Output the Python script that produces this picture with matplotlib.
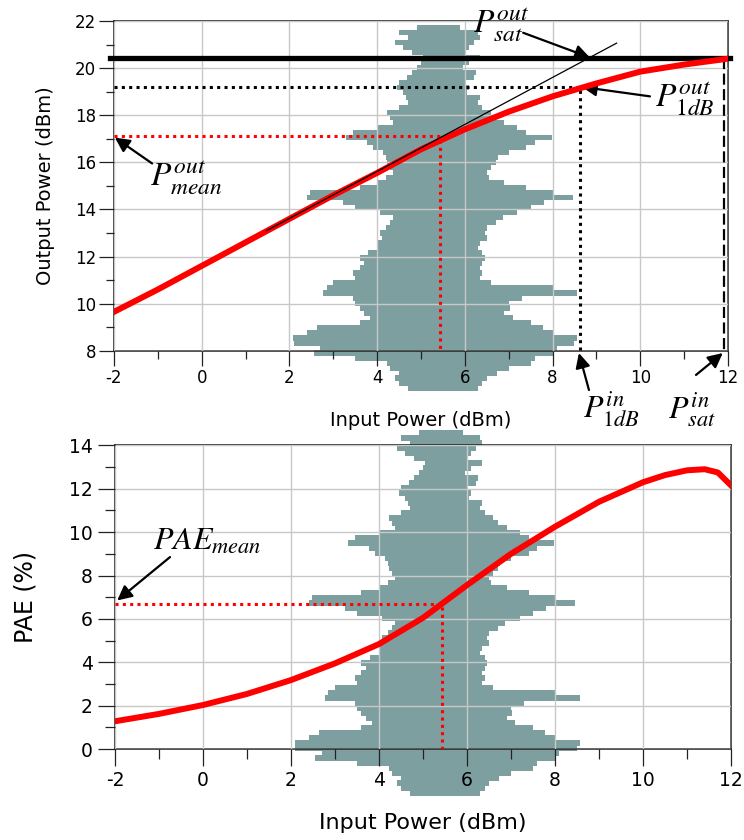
import numpy as np
import matplotlib
matplotlib.use('Agg')
import matplotlib.pyplot as plt
from matplotlib.ticker import MultipleLocator

plt.rcParams['font.family'] = ['DejaVu Sans']
plt.rcParams['mathtext.fontset'] = 'stix'
plt.rcParams['axes.unicode_minus'] = False

# AM/AM curve (output power vs input power, dBm)
pin = [-2, -1, 0, 1, 2, 3, 4, 5, 6, 7, 8, 9, 10, 11, 12]
pout = [9.65, 10.6, 11.6, 12.6, 13.6, 14.6, 15.55, 16.55, 17.4, 18.15, 18.8, 19.35, 19.85, 20.15, 20.4]

# PAE curve (%)
pin_pae = [-2, -1, 0, 1, 2, 3, 4, 5, 6, 7, 8, 9, 10, 10.5, 11, 11.4, 11.7, 12]
pae = [1.28, 1.62, 2.03, 2.54, 3.18, 3.95, 4.84, 6.05, 7.56, 9.0, 10.25, 11.4, 12.3, 12.63, 12.85, 12.9, 12.75, 12.15]

# linear extrapolation of small-signal gain
lin_pin = [1.48, 9.46]
lin_pout = [13.1, 21.06]

# characteristic points
psat_out = 20.45
psat_in = 11.9
p1db_in, p1db_out = 8.62, 19.2
pmean_in, pmean_out = 5.43, 17.1
pae_mean = 6.7

# input power distribution of the signal (left / right edge of each row, dBm)
hist_left = [4.9, 4.5, 4.7, 4.4, 4.6, 4.8, 5.05, 5.0, 4.9, 4.8, 4.68, 4.5, 4.45, 4.6, 4.65,
             4.7, 4.5, 4.22, 4.3, 4.36, 4.0, 3.45, 3.3, 3.77, 3.9, 4.13, 4.2, 4.22, 4.3, 4.36,
             4.2, 4.0, 3.6, 2.47, 2.4, 3.22, 3.5, 4.06, 4.36, 4.3, 4.2, 4.06, 4.1, 4.0, 4.0,
             3.8, 3.6, 3.7, 3.6, 3.45, 3.5, 3.0, 2.85, 2.77, 3.45, 3.5, 3.6, 3.7, 3.84, 3.6,
             2.63, 2.4, 2.08, 2.1, 2.7, 2.55, 3.5, 4.22, 4.3, 4.5, 4.4, 4.5, 4.7]
hist_right = [5.9, 6.3, 6.35, 6.2, 6.1, 6.0, 6.35, 6.1, 5.96, 6.25, 6.2, 6.0, 6.1, 6.05, 6.35,
              6.3, 6.4, 6.6, 6.7, 6.9, 7.2, 7.4, 7.98, 7.6, 7.4, 7.0, 6.75, 6.7, 6.6, 6.5,
              6.55, 6.9, 7.4, 8.0, 8.46, 7.8, 7.5, 7.2, 6.87, 6.7, 6.5, 6.45, 6.5, 6.35, 6.3,
              6.4, 6.45, 6.4, 6.35, 6.4, 6.35, 6.6, 8.0, 8.56, 7.3, 7.0, 7.03, 6.9, 7.1, 7.5,
              7.78, 8.0, 8.56, 8.5, 8.1, 8.0, 7.6, 7.5, 7.0, 6.73, 6.5, 6.4, 6.3]
hist_y_out = np.linspace(21.73, 6.41, len(hist_left))
hist_y_pae = np.linspace(14.57, -2.03, len(hist_left))

hist_col = '#7d9fa0'
red = '#ff0000'
dots = (0, (1.0, 1.4))

fig = plt.figure(figsize=(7.44, 8.4), dpi=100)
ax1 = fig.add_axes([0.1532, 0.5825, 0.8253, 0.3925])
ax2 = fig.add_axes([0.1546, 0.1083, 0.828, 0.3615])


def style_axes(ax, ymin, ymax, fs):
    ax.set_xlim(-2, 12)
    ax.set_ylim(ymin, ymax)
    ax.xaxis.set_major_locator(MultipleLocator(2))
    ax.xaxis.set_minor_locator(MultipleLocator(1))
    ax.yaxis.set_major_locator(MultipleLocator(2))
    ax.yaxis.set_minor_locator(MultipleLocator(1))
    ax.set_axisbelow(False)
    ax.grid(True, which='major', color='#c8c8c8', lw=1)
    ax.tick_params(which='major', direction='out', length=11, width=0.9, color='#222222',
                   labelsize=fs, pad=2)
    ax.tick_params(which='minor', direction='out', length=6, width=0.9, color='#222222')
    for s in ax.spines.values():
        s.set_linewidth(1.1)
        s.set_color('#222222')


def draw_hist(ax, ys):
    step = abs(ys[1] - ys[0])
    w = np.array(hist_right) - np.array(hist_left)
    ax.barh(ys, w, left=hist_left, height=step * 1.08, color=hist_col, lw=0,
            clip_on=False, zorder=1)


def arrow(ax, tail, head):
    ax.annotate('', xy=head, xytext=tail, annotation_clip=False,
                arrowprops=dict(arrowstyle='-|>', color='k', lw=1.6, mutation_scale=22,
                                shrinkA=0, shrinkB=0))


# ---- top: output power
style_axes(ax1, 8, 22, 12)
draw_hist(ax1, hist_y_out)
ax1.plot([-2.1, 12.05], [psat_out, psat_out], color='k', lw=3.8, clip_on=False, zorder=4)
ax1.plot([-2, p1db_in, p1db_in], [p1db_out, p1db_out, 8], color='k', lw=2.2, ls=dots, zorder=4)
ax1.plot([-2, pmean_in, pmean_in], [pmean_out, pmean_out, 8], color=red, lw=2.2, ls=dots, zorder=4)
ax1.plot([psat_in, psat_in], [psat_out, 8], color='k', lw=1.6, ls=(0, (5, 2)), zorder=4)
ax1.plot(pin, pout, color=red, lw=4.3, zorder=5)
ax1.plot(lin_pin, lin_pout, color='k', lw=0.9, zorder=6)
ax1.set_ylabel('Output Power (dBm)', fontsize=14)
ax1.yaxis.set_label_coords(-0.096, 0.5)
ax1.set_xlabel('Input Power (dBm)', fontsize=14)
ax1.xaxis.set_label_coords(0.5, -0.183)

ax1.text(6.19, 21.5, r'$P^{out}_{sat}$', fontsize=24, va='baseline', ha='left')
arrow(ax1, (7.33, 21.5), (8.85, psat_out))
ax1.text(10.33, 18.36, r'$P^{out}_{1dB}$', fontsize=24, va='baseline', ha='left')
arrow(ax1, (10.22, 18.8), (p1db_in + 0.05, p1db_out))
ax1.text(-1.18, 14.98, r'$P^{out}_{mean}$', fontsize=24, va='baseline', ha='left')
arrow(ax1, (-1.13, 15.95), (-1.98, pmean_out - 0.05))
ax1.text(8.69, 5.13, r'$P^{in}_{1dB}$', fontsize=23, va='baseline', ha='left')
arrow(ax1, (8.83, 6.33), (8.6, 7.9))
ax1.text(10.63, 5.13, r'$P^{in}_{sat}$', fontsize=23, va='baseline', ha='left')
arrow(ax1, (11.27, 6.97), (11.88, 7.9))

# ---- bottom: PAE
style_axes(ax2, 0, 14, 13.5)
ax2.tick_params(which='major', length=12, pad=4)
ax2.tick_params(which='minor', length=7)
draw_hist(ax2, hist_y_pae)
ax2.plot([-2, pmean_in, pmean_in], [pae_mean, pae_mean, 0], color=red, lw=2.2, ls=dots, zorder=4)
ax2.plot(pin_pae, pae, color=red, lw=4.3, zorder=5)
ax2.set_ylabel('PAE (%)', fontsize=17)
ax2.yaxis.set_label_coords(-0.126, 0.5)
ax2.set_xlabel('Input Power (dBm)', fontsize=16)
ax2.xaxis.set_label_coords(0.5, -0.211)

ax2.text(-1.14, 9.2, r'$PAE_{mean}$', fontsize=23, va='baseline', ha='left')
arrow(ax2, (-0.75, 8.85), (-1.95, pae_mean + 0.15))

fig.savefig('out.png', dpi=100)
